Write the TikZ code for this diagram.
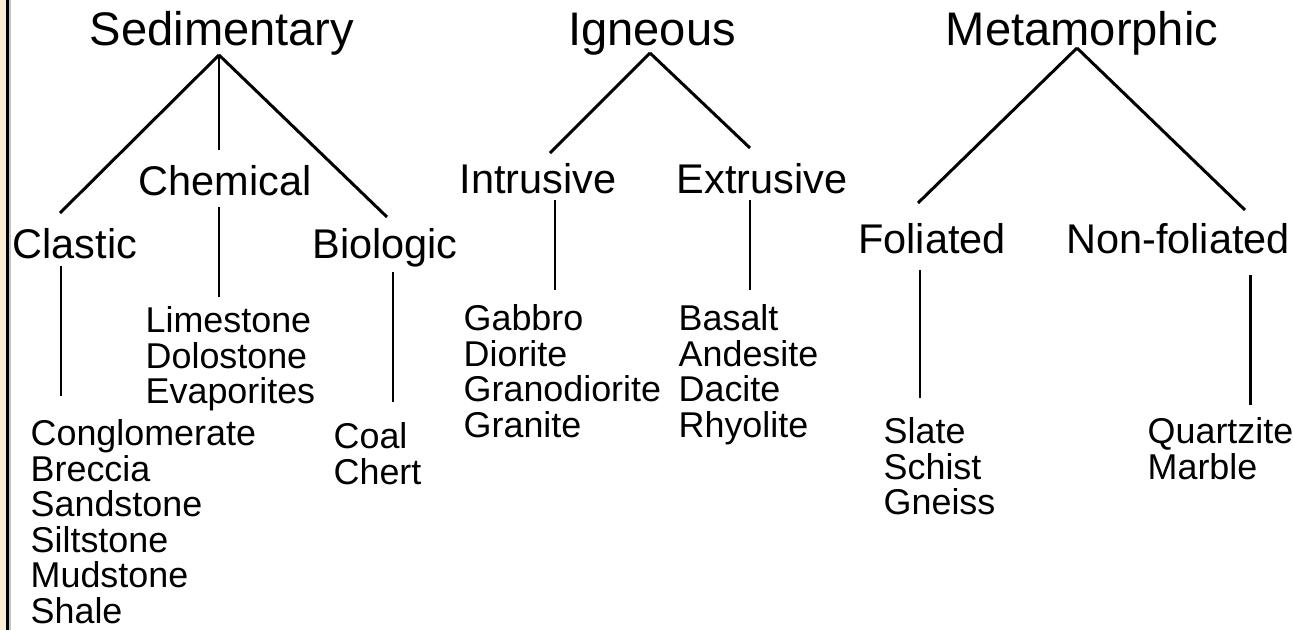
\documentclass[tikz,border=0pt]{standalone}
\usepackage{fontspec}
\setmainfont{Liberation Sans}
\usetikzlibrary{positioning}
\definecolor{edgebeige}{RGB}{251,238,214}
\definecolor{edgegrey}{RGB}{196,196,196}

\begin{document}
\begin{tikzpicture}[x=0.01cm, y=-0.01cm,
  rock/.style={inner sep=0pt, anchor=base, font=\fontsize{13.4}{16}\selectfont},
  group/.style={inner sep=0pt, anchor=base, font=\fontsize{11.8}{14}\selectfont},
  kinds/.style={inner sep=0pt, anchor=north west, align=left, font=\fontsize{10.2}{10.1}\selectfont},
  branch/.style={black, line width=0.85pt}]

\useasboundingbox (0,0) rectangle (1293,630);

%%%%%%%%%%%%  left edge %%%%%%%%%%%%%
\fill[edgebeige] (0,0) rectangle (6,630);
\draw[black, line width=0.6pt] (7.5,0) -- (7.5,630);
\draw[edgegrey, line width=0.5pt] (10,0) -- (10,630);

% rock types
{
\node[rock] (sed) at (222,45) {Sedimentary};
\node[rock] (ign) at (652,45) {Igneous};
\node[rock] (met) at (1082,45) {Metamorphic};
}

% sub groups
{
\node[group] (cla) at (75,258) {Clastic};
\node[group] (che) at (225,195) {Chemical};
\node[group] (bio) at (385,258) {Biologic};

\node[group] (int) at (538,193) {Intrusive};
\node[group] (ext) at (762,193) {Extrusive};

\node[group] (fol) at (932,253) {Foliated};
\node[group] (non) at (1178,253) {Non-foliated};
}

% rock lists
{
\node[kinds] (claList) at (30,419) {Conglomerate\\Breccia\\Sandstone\\Siltstone\\Mudstone\\Shale};
\node[kinds] (cheList) at (145,306) {Limestone\\Dolostone\\Evaporites};
\node[kinds] (bioList) at (333,422) {Coal\\Chert};

\node[kinds] (intList) at (463,304) {Gabbro\\Diorite\\Granodiorite\\Granite};
\node[kinds] (extList) at (678,304) {Basalt\\Andesite\\Dacite\\Rhyolite};

\node[kinds] (folList) at (883,417) {Slate\\Schist\\Gneiss};
\node[kinds] (nonList) at (1147,417) {Quartzite\\Marble};
}

% line ends
{
\coordinate (sedTip) at (219,55);
\coordinate (claUp) at (60,213);
\coordinate (cheUp) at (219,150);
\coordinate (bioUp) at (387,217);
\coordinate (cheTop) at (219,207);
\coordinate (cheBot) at (219,297);
\coordinate (claTop) at (61,266);
\coordinate (claBot) at (61,396);
\coordinate (bioTop) at (393,272);
\coordinate (bioBot) at (393,402);

\coordinate (ignTip) at (650,53);
\coordinate (intUp) at (550,153);
\coordinate (extUp) at (750,148);
\coordinate (intTop) at (555,200);
\coordinate (intBot) at (555,290);
\coordinate (extTop) at (750,200);
\coordinate (extBot) at (750,290);

\coordinate (metTip) at (1077,48);
\coordinate (folUp) at (918,203);
\coordinate (nonUp) at (1245,210);
\coordinate (folTop) at (920,270);
\coordinate (folBot) at (920,398);
\coordinate (nonTop) at (1250,275);
\coordinate (nonBot) at (1250,405);
}

% branches
{
\draw[branch] (sedTip) -- (claUp);
\draw[branch] (sedTip) -- (cheUp);
\draw[branch] (sedTip) -- (bioUp);
\draw[branch] (claTop) -- (claBot);
\draw[branch] (cheTop) -- (cheBot);
\draw[branch] (bioTop) -- (bioBot);

\draw[branch] (ignTip) -- (intUp);
\draw[branch] (ignTip) -- (extUp);
\draw[branch] (intTop) -- (intBot);
\draw[branch] (extTop) -- (extBot);

\draw[branch] (metTip) -- (folUp);
\draw[branch] (metTip) -- (nonUp);
\draw[branch] (folTop) -- (folBot);
\draw[branch] (nonTop) -- (nonBot);
}

\end{tikzpicture}
\end{document}
